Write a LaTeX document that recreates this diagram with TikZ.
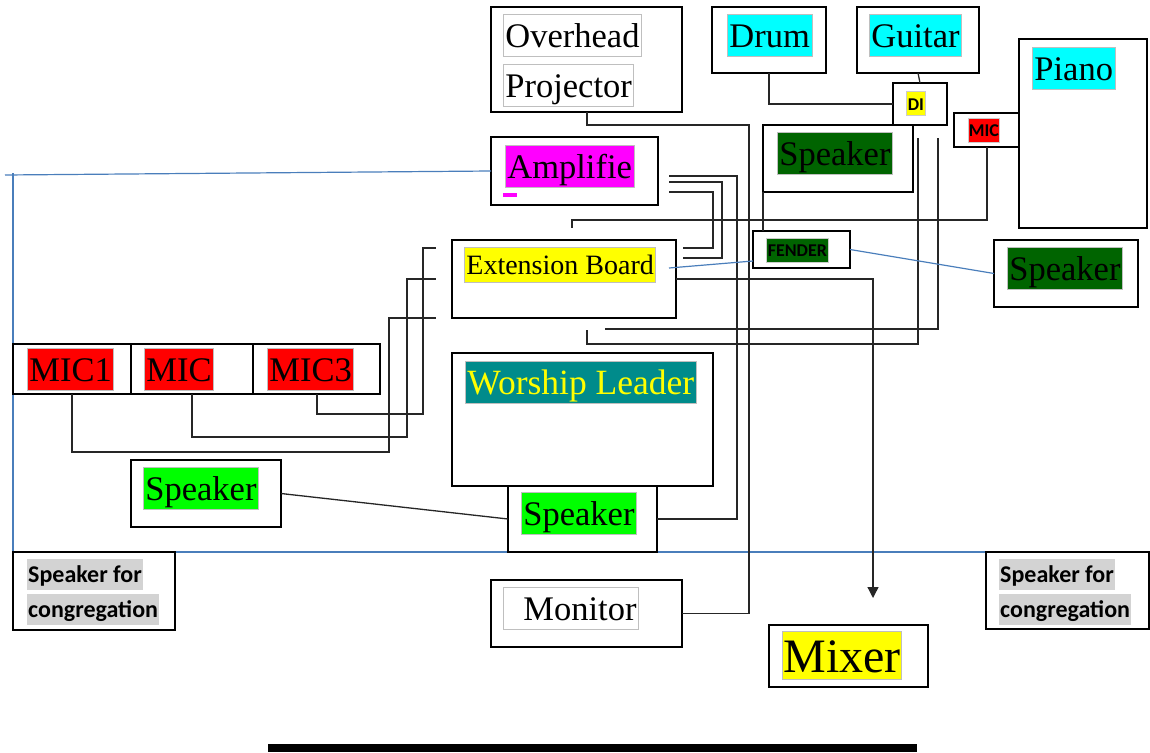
\documentclass[tikz,border=0pt]{standalone}
\usepackage{fontspec}
\setmainfont{Liberation Serif}
\newfontfamily\calfont{Carlito}
\usetikzlibrary{calc,arrows.meta}
\definecolor{hcyan}{HTML}{00FFFF}
\definecolor{hmag}{HTML}{FF00FF}
\definecolor{hyel}{HTML}{FFFF00}
\definecolor{hred}{HTML}{FF0000}
\definecolor{hdkg}{HTML}{006400}
\definecolor{hgrn}{HTML}{00FF00}
\definecolor{hteal}{HTML}{008B8B}
\definecolor{hgray}{HTML}{D3D3D3}
\definecolor{bluel}{HTML}{4A7EBB}
\tikzset{
 box/.style={draw=black, line width=1.4, inner sep=0, outer sep=0, anchor=north west},
 hl/.style={anchor=west, inner xsep=2, inner ysep=5, text height=28, text depth=4, draw=black!25, line width=0.8, font=\fontsize{34.5}{40}\selectfont},
 hlx/.style={anchor=west, inner xsep=2, inner ysep=4, text height=23, text depth=4, draw=black!25, line width=0.8, font=\fontsize{28}{32}\selectfont},
 hlm/.style={anchor=west, inner xsep=1, inner ysep=2, text height=39, text depth=5, draw=black!25, line width=0.8, font=\fontsize{48}{54}\selectfont},
 sfl/.style={anchor=west, font=\calfont\bfseries\fontsize{18}{20}\selectfont, inner xsep=1.5, inner ysep=4, text height=14.5, text depth=1.5, draw=black!20, line width=0.6},
 cg/.style={anchor=west, font=\calfont\bfseries\fontsize{24}{28}\selectfont, inner xsep=1, inner ysep=4, text height=19.5, text depth=3.5, fill=hgray},
 wire/.style={line width=1.3, draw=black!85},
 bwire/.style={line width=1.2, draw=bluel},
}
\begin{document}
\begin{tikzpicture}[x=1pt,y=-1pt]
\useasboundingbox (0,0) rectangle (1150,752);
% blue lines (behind)
\draw[bwire] (13,173) -- (13,552) -- (1150,552);
% boxes
\node[box, minimum width=191, minimum height=105] (ohp) at (491,7) {};
\node[box, minimum width=114, minimum height=66] (drum) at (712,7) {};
\node[box, minimum width=122, minimum height=66] (guitar) at (857,7) {};
\node[box, minimum width=128, minimum height=189] (piano) at (1019,39) {};
\node[box, minimum width=54, minimum height=42] (di) at (893,83) {};
\node[box, minimum width=65, minimum height=34] (pmic) at (954,113) {};
\node[box, minimum width=150, minimum height=67] (spk1) at (763,125) {};
\node[box, minimum width=97, minimum height=37] (fender) at (753,231) {};
\node[box, minimum width=144, minimum height=67] (spkr) at (994,240) {};
\node[box, minimum width=167, minimum height=68] (amp) at (491,137) {};
\node[box, minimum width=224, minimum height=78] (extb) at (452,240) {};
\node[box, minimum width=261, minimum height=133] (wl) at (452,353) {};
\node[box, minimum width=149, minimum height=66, fill=white] (spkc) at (508,486) {};
\node[box, minimum width=367, minimum height=50] (mics) at (13,344) {};
\draw[line width=1.4] (131,344) -- (131,394) (253,344) -- (253,394);
\node[box, minimum width=150, minimum height=67] (spkl) at (131,460) {};
\node[box, minimum width=162, minimum height=78, fill=white] (cgl) at (13,552) {};
\node[box, minimum width=163, minimum height=77, fill=white] (cgr) at (986,552) {};
\node[box, minimum width=191, minimum height=67] (monitor) at (491,580) {};
\node[box, minimum width=159, minimum height=62] (mixer) at (769,625) {};
\node[box, draw=none, fill=black, minimum width=649, minimum height=8] (bar) at (268,744) {};
% labels
\node[hl, fill=white] (tOver) at (503,35.5) {Overhead};
\node[hl, fill=white] (tProj) at (503,85) {Projector};
\node[hl, fill=hcyan] (tDrum) at (727,35.5) {Drum};
\node[hl, fill=hcyan] (tGuit) at (869,35.5) {Guitar};
\node[hl, fill=hcyan] (tPiano) at (1032,68) {Piano};
\node[sfl, fill=hyel] (tDI) at (906,103.5) {DI};
\node[sfl, fill=hred, inner xsep=0.5] (tMIC) at (968,130) {MIC};
\node[hl, fill=hdkg] (tSpk1) at (777,153.5) {Speaker};
\node[hl, fill=hmag] (tAmp) at (505,166) {Amplifie};
\fill[hmag] (503,193) rectangle (517,197);
\node[hlx, fill=hyel] (tExt) at (464,264.5) {Extension Board};
\node[sfl, fill=hdkg] (tFen) at (766,250) {FENDER};
\node[hl, fill=hdkg] (tSpkr) at (1007,268.5) {Speaker};
\node[hl, fill=hred] (tM1) at (27,369) {MIC1};
\node[hl, fill=hred] (tM2) at (144,369) {MIC};
\node[hl, fill=hred] (tM3) at (267,369) {MIC3};
\node[hl, fill=hteal, text=hyel, font=\fontsize{35.5}{40}\selectfont] (tWL) at (465,382) {Worship Leader};
\node[hl, fill=hgrn] (tSpkc) at (521,513.5) {Speaker};
\node[hl, fill=hgrn] (tSpkl) at (143,488.5) {Speaker};
\node[cg] (tCg1) at (27,574.5) {Speaker for};
\node[cg] (tCg2) at (27,609) {congregation};
\node[cg] (tCg3) at (999,574.5) {Speaker for};
\node[cg] (tCg4) at (999,609) {congregation};
\node[hl, fill=white] (tMon) at (503,608) {\hspace*{18pt}Monitor};
\node[hlm, fill=hyel] (tMix) at (782,655.5) {Mixer};
% black wires
\draw[wire] ($(ohp.south west)+(96,0)$) |- (749,125) |- (monitor.east);
\draw[wire] ($(drum.south west)+(57,0)$) |- (di.west);
\draw[wire] ($(guitar.south west)+(61,0)$) -- ($(di.north west)+(27,0)$);
\draw[wire] ($(di.south west)+(25,13)$) |- (587,344) -- ++(0,-14);
\draw[wire] ($(di.south west)+(45,13)$) |- (605,329);
\draw[wire] ($(pmic.south west)+(33,0)$) |- (572,220) -- ++(0,8);
\draw[wire] (spk1.south west) -- (spk1.south west |- fender.north);
\draw[wire] ($(amp.east)+(11,5)$) -| ($(spkc.east)+(80,0)$) -- (spkc.east);
\draw[wire] ($(amp.east)+(11,11)$) -| ($(extb.east)+(46,-21)$) -- ($(extb.east)+(7,-21)$);
\draw[wire] ($(amp.east)+(11,21)$) -| ($(extb.east)+(37,-31)$) -- ($(extb.east)+(7,-31)$);
\draw[wire, -{Triangle[width=11pt,length=11pt]}] (extb.east) -| ($(mixer.north west)+(104,-27)$);
\draw[wire] ($(mics.south west)+(304,0)$) |- (423,414) |- ($(extb.west)+(-16,-31)$);
\draw[wire] ($(mics.south west)+(179,0)$) |- (407,437) |- ($(extb.west)+(-16,0)$);
\draw[wire] ($(mics.south west)+(59,0)$) |- (389,452) |- ($(extb.west)+(-16,39)$);
\draw[wire] (spkl.east) -- (spkc.west);
% blue wires
\draw[bwire] (5,175) -- (amp.west);
\draw[bwire] ($(extb.east)+(-7,-11)$) -- ($(fender.south west)+(0,-7)$);
\draw[bwire] (fender.east) -- (spkr.west);
\end{tikzpicture}
\end{document}
